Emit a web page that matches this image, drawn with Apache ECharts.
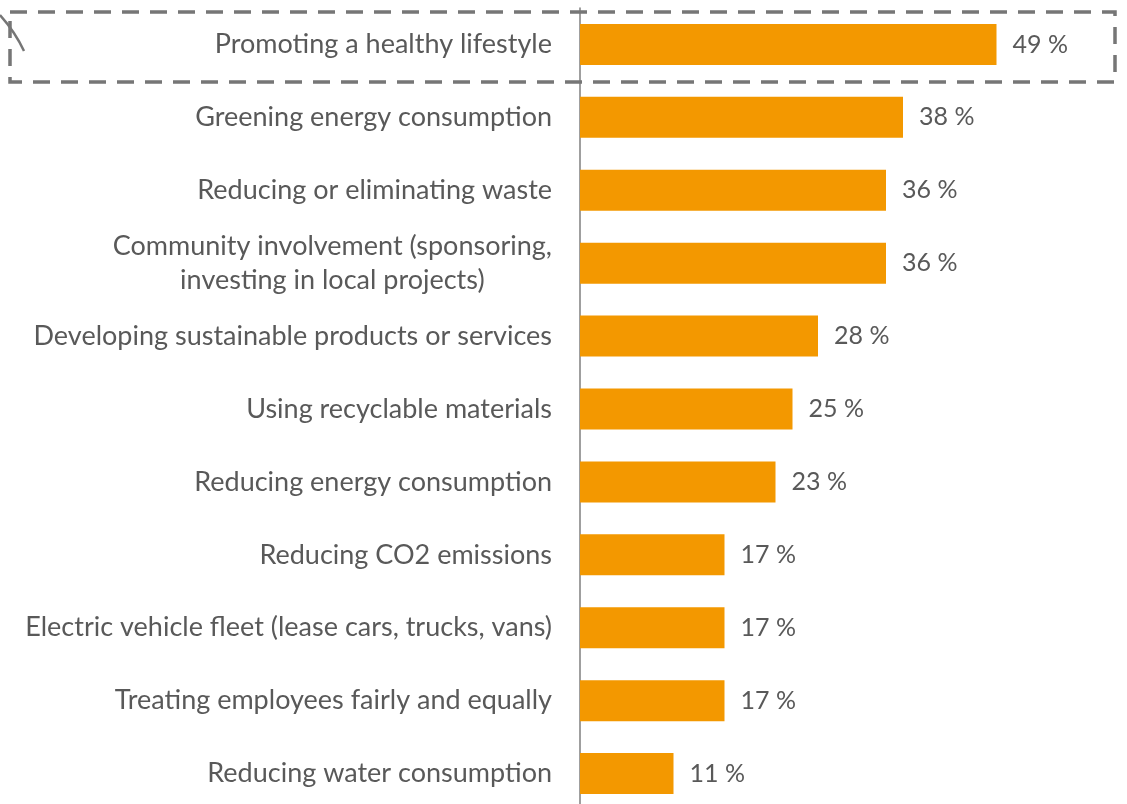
<!DOCTYPE html>
<html>
<head>
<meta charset="utf-8">
<script src="https://cdn.jsdelivr.net/npm/echarts@6/dist/echarts.min.js"></script>
<style>
  html, body { margin: 0; padding: 0; background: #fff; }
  #chart { width: 1127px; height: 804px; }
</style>
</head>
<body>
<div id="chart"></div>
<script>
// Sustainability measures, share of respondents (%)
const categories = [
  'Promoting a healthy lifestyle',
  'Greening energy consumption',
  'Reducing or eliminating waste',
  'Community involvement (sponsoring,\ninvesting in local projects)',
  'Developing sustainable products or services',
  'Using recyclable materials',
  'Reducing energy consumption',
  'Reducing CO2 emissions',
  'Electric vehicle fleet (lease cars, trucks, vans)',
  'Treating employees fairly and equally',
  'Reducing water consumption'
];
const values = [49, 38, 36, 36, 28, 25, 23, 17, 17, 17, 11];

const FONT = 'Lato, "Open Sans", sans-serif';
const TEXT = '#595959';

const chart = echarts.init(document.getElementById('chart'), null, { renderer: 'canvas' });
chart.setOption({
  animation: false,
  grid: { left: 580, top: 8, width: 510, height: 802, containLabel: false, outerBoundsMode: 'none' },
  xAxis: {
    type: 'value', min: 0, max: 60,
    show: false
  },
  yAxis: {
    type: 'category',
    inverse: true,
    data: categories,
    axisLine: { show: true, lineStyle: { color: '#7f7f7f', width: 1.5 } },
    axisTick: { show: false },
    axisLabel: {
      margin: 28,
      color: TEXT,
      fontFamily: FONT,
      fontSize: 27,
      lineHeight: 34,
      align: 'right',
      formatter: v => v.split('\n').map(s => '{c|' + s + '}').join('\n'),
      rich: { c: { align: 'center', color: TEXT, fontFamily: FONT, fontSize: 27, lineHeight: 34 } }
    }
  },
  series: [{
    type: 'bar',
    data: values,
    barWidth: 41,
    itemStyle: { color: '#F39800' },
    label: {
      show: true,
      position: 'right',
      distance: 16,
      formatter: p => p.value + ' %',
      color: TEXT,
      fontFamily: FONT,
      fontSize: 25
    }
  }],
  graphic: [
    {
      type: 'rect',
      shape: { x: 10, y: 12, width: 1105, height: 70 },
      style: { fill: 'none', stroke: '#767676', lineWidth: 3.5, lineDash: [17, 11] },
      z: 10
    },
    {
      type: 'bezierCurve',
      shape: { x1: 0, y1: 15, x2: 24, y2: 51, cpx1: 9, cpy1: 25, cpx2: 18, cpy2: 38 },
      style: { fill: 'none', stroke: '#767676', lineWidth: 2.5 },
      z: 10
    }
  ]
});
</script>
</body>
</html>
